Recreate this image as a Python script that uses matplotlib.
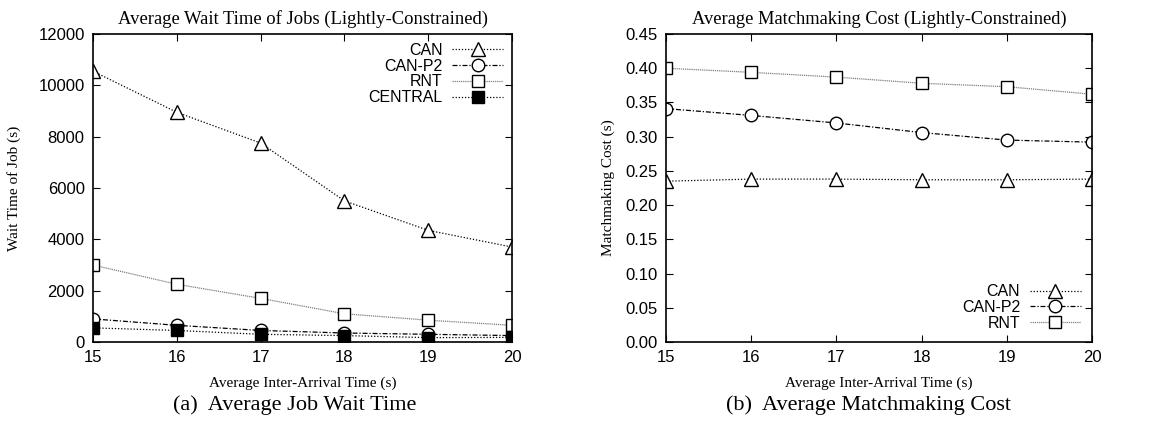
import matplotlib.pyplot as plt

x = [15, 16, 17, 18, 19, 20]

# (a) wait time of jobs (s)
wait_can = [10550, 8950, 7750, 5500, 4350, 3700]
wait_canp2 = [900, 650, 450, 350, 300, 250]
wait_rnt = [3000, 2250, 1700, 1100, 850, 650]
wait_central = [550, 450, 300, 250, 170, 180]

# (b) matchmaking cost (s)
cost_can = [0.235, 0.238, 0.238, 0.237, 0.237, 0.238]
cost_canp2 = [0.341, 0.331, 0.320, 0.306, 0.295, 0.292]
cost_rnt = [0.400, 0.394, 0.387, 0.378, 0.373, 0.362]

serif = 'Liberation Serif'
sans = 'Liberation Sans'

fig = plt.figure(figsize=(11.53, 4.26), dpi=100)
W, H = 1153, 426
ax1 = fig.add_axes([93 / W, 1 - 342 / H, (512 - 93) / W, (342 - 34) / H])
ax2 = fig.add_axes([666 / W, 1 - 342 / H, (1092 - 666) / W, (342 - 34) / H])

ms = 9
dot = (0, (1, 1.5))
dashdot = (0, (4, 1.5, 1, 1.5))
fine = (0, (1, 0.7))

ax1.plot(x, wait_can, color='black', lw=0.9, ls=dot, marker='^',
         mfc='white', mec='black', ms=ms + 0.5, label='CAN')
ax1.plot(x, wait_canp2, color='black', lw=0.9, ls=dashdot, marker='o',
         mfc='white', mec='black', ms=ms, label='CAN-P2')
ax1.plot(x, wait_rnt, color='gray', lw=0.9, ls=fine, marker='s',
         mfc='white', mec='black', ms=ms, label='RNT')
ax1.plot(x, wait_central, color='black', lw=0.9, ls=dot, marker='s',
         mfc='black', mec='black', ms=ms - 0.5, label='CENTRAL')
ax1.set_ylim(0, 12000)
ax1.set_yticks(range(0, 12001, 2000))
ax1.set_title('Average Wait Time of Jobs (Lightly-Constrained)', family=serif, fontsize=13.4, pad=7)
ax1.set_ylabel('Wait Time of Job (s)', family=serif, fontsize=11)
ax1.yaxis.set_label_coords(-0.172, 0.5)

ax2.plot(x, cost_can, color='black', lw=0.9, ls=dot, marker='^',
         mfc='white', mec='black', ms=ms + 0.5, label='CAN')
ax2.plot(x, cost_canp2, color='black', lw=0.9, ls=dashdot, marker='o',
         mfc='white', mec='black', ms=ms, label='CAN-P2')
ax2.plot(x, cost_rnt, color='gray', lw=0.9, ls=fine, marker='s',
         mfc='white', mec='black', ms=ms, label='RNT')
ax2.set_ylim(0, 0.45)
ax2.set_yticks([i * 0.05 for i in range(10)])
ax2.set_yticklabels(['%.2f' % (i * 0.05) for i in range(10)])
ax2.set_title('Average Matchmaking Cost (Lightly-Constrained)', family=serif, fontsize=13.3, pad=7)
ax2.set_ylabel('Matchmaking Cost (s)', family=serif, fontsize=11)
ax2.yaxis.set_label_coords(-0.12, 0.5)

for ax in (ax1, ax2):
    ax.set_xlim(15, 20)
    ax.set_xticks(x)
    ax.set_xlabel('Average Inter-Arrival Time (s)', family=serif, fontsize=11, labelpad=8)
    ax.tick_params(direction='in', top=True, right=True, length=5, labelsize=12, pad=6)
    for lab in ax.get_xticklabels() + ax.get_yticklabels():
        lab.set_family(sans)
    for s in ax.spines.values():
        s.set_linewidth(1.2)

leg1 = ax1.legend(loc='upper right', frameon=False, markerfirst=False,
                  prop={'family': sans, 'size': 11.5}, handlelength=3.2,
                  labelspacing=0.05, borderaxespad=0.15, handletextpad=0.6)
leg2 = ax2.legend(loc='lower right', frameon=False, markerfirst=False,
                  prop={'family': sans, 'size': 11.5}, handlelength=3.2,
                  labelspacing=0.05, borderaxespad=0.3, handletextpad=0.6)
for leg in (leg1, leg2):
    for t in leg.get_texts():
        t.set_ha('right')

fig.text(295 / W, 1 - 405 / H, '(a)  Average Job Wait Time', family=serif, fontsize=16,
         ha='center', va='center')
fig.text(868 / W, 1 - 405 / H, '(b)  Average Matchmaking Cost', family=serif, fontsize=16,
         ha='center', va='center')

fig.savefig('out.png', dpi=100)
